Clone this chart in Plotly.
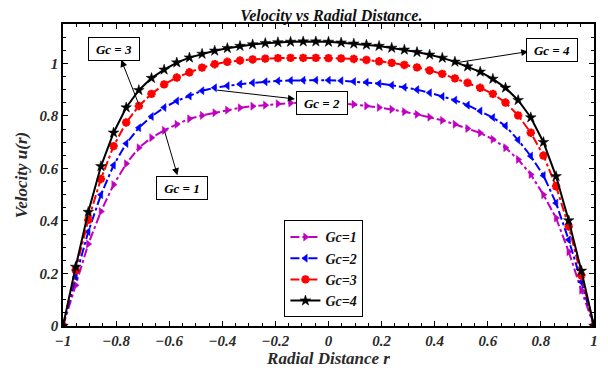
import numpy as np
import plotly.graph_objects as go

r = np.linspace(-1, 1, 43)

gc1 = [0, 0.155, 0.312, 0.436, 0.538, 0.618, 0.679, 0.717, 0.745, 0.768, 0.789,
       0.802, 0.812, 0.822, 0.831, 0.837, 0.841, 0.846, 0.849, 0.851, 0.852,
       0.851, 0.848, 0.844, 0.838, 0.832, 0.825, 0.816, 0.806, 0.795, 0.783,
       0.768, 0.752, 0.735, 0.711, 0.679, 0.634, 0.577, 0.500, 0.411, 0.283,
       0.136, 0]
gc2 = [0, 0.187, 0.359, 0.500, 0.612, 0.695, 0.755, 0.798, 0.832, 0.857, 0.876,
       0.896, 0.907, 0.915, 0.921, 0.926, 0.930, 0.933, 0.935, 0.936, 0.936,
       0.936, 0.934, 0.931, 0.928, 0.923, 0.917, 0.909, 0.900, 0.888, 0.874,
       0.860, 0.841, 0.819, 0.794, 0.762, 0.708, 0.647, 0.573, 0.468, 0.328,
       0.168, 0]
gc3 = [0, 0.213, 0.404, 0.560, 0.685, 0.775, 0.838, 0.884, 0.920, 0.946, 0.966,
       0.984, 0.997, 1.006, 1.011, 1.015, 1.018, 1.020, 1.021, 1.021, 1.021,
       1.020, 1.019, 1.017, 1.013, 1.008, 1.002, 0.994, 0.985, 0.973, 0.960,
       0.943, 0.926, 0.907, 0.884, 0.851, 0.802, 0.736, 0.649, 0.532, 0.379,
       0.193, 0]
gc4 = [0, 0.225, 0.434, 0.608, 0.736, 0.832, 0.898, 0.944, 0.976, 1.003, 1.022,
       1.036, 1.048, 1.058, 1.066, 1.072, 1.077, 1.080, 1.082, 1.083, 1.083,
       1.082, 1.079, 1.075, 1.071, 1.066, 1.059, 1.052, 1.043, 1.033, 1.021,
       1.006, 0.988, 0.968, 0.941, 0.907, 0.860, 0.794, 0.700, 0.570, 0.402,
       0.210, 0]

names = ["Gc=1", "Gc=2", "Gc=3", "Gc=4"]
series = [gc1, gc2, gc3, gc4]
colors = ["#C000C0", "#0000FF", "#FF0000", "#000000"]
dashes = ["dashdot", "dashdot", "dashdot", "solid"]
symbols = ["triangle-right", "triangle-left", "asterisk-open", "star"]
msizes = [7, 7, 7, 8]

FONT = "'Liberation Serif', 'Times New Roman', Times, serif"


def bfont(size, color="#222222"):
    return dict(family=FONT, size=size, color=color, weight="bold", style="italic")


fig = go.Figure()
for nm, ys, c, d, s, ms in zip(names, series, colors, dashes, symbols, msizes):
    mk = dict(symbol=s, size=ms, color=c, line=dict(color=c, width=0.5))
    if s == "asterisk-open":
        mk = dict(symbol=s, size=ms, color=c, line=dict(color=c, width=2.5))
    fig.add_trace(go.Scatter(x=r, y=ys, name=nm, mode="lines+markers",
                             line=dict(color=c, width=2, dash=d), marker=mk))

# annotation boxes and arrows (data coords)
boxes = [("Gc = 1", -0.5533, 0.5248), ("Gc = 2", -0.0262, 0.8492),
         ("Gc = 3", -0.8075, 1.0565), ("Gc = 4", 0.8422, 1.0504)]
arrows = [((-0.569, 0.5744), (-0.6187, 0.7462)),
          ((-0.1264, 0.8645), (-0.4254, 0.8989)),
          ((-0.7806, 1.0134), (-0.712, 0.8378)),
          ((0.7522, 1.045), (0.4841, 1.003))]

for (hx, hy), (tx, ty) in arrows:
    fig.add_annotation(x=hx, y=hy, ax=tx, ay=ty, xref="x", yref="y",
                       axref="x", ayref="y", text="", showarrow=True,
                       arrowhead=2, arrowsize=1.4, arrowwidth=1, arrowcolor="black")
for t, bx, by in boxes:
    fig.add_annotation(x=bx, y=by, xref="x", yref="y", text=t,
                       showarrow=False, bgcolor="white", bordercolor="black",
                       borderwidth=1, borderpad=3, width=44, height=16,
                       font=bfont(13, "black"))

axis_common = dict(showline=True, linecolor="black", linewidth=1.5, mirror="allticks",
                   ticks="inside", ticklen=5, tickwidth=1, tickcolor="black",
                   showgrid=False, zeroline=False,
                   tickfont=bfont(15, "#2a2a2a"),
                   minor=dict(ticks="inside", ticklen=3, tickwidth=1, tickcolor="black",
                              dtick=0.05, showgrid=False))

fig.update_layout(
    width=608, height=374,
    margin=dict(l=63, r=10, t=24, b=48),
    paper_bgcolor="white", plot_bgcolor="white",
    title=dict(text="Velocity vs Radial Distance.", x=0.545, xanchor="center",
               y=0.975, yanchor="top", font=bfont(16, "#111111")),
    xaxis=dict(range=[-1, 1], dtick=0.2, tick0=-1,
               title=dict(text="Radial Distance r", standoff=2, font=bfont(17, "#2a2a2a")),
               **axis_common),
    yaxis=dict(range=[0, 1.15], dtick=0.2, tick0=0,
               title=dict(text="Velocity u(r)", standoff=8, font=bfont(17, "#2a2a2a")),
               **axis_common),
    legend=dict(x=0.417, y=0.189, xanchor="left", yanchor="middle",
                bgcolor="white", bordercolor="black", borderwidth=1,
                font=bfont(14, "#111111"),
                tracegroupgap=0, itemwidth=30),
    showlegend=True,
)

fig.write_html("out.html")
